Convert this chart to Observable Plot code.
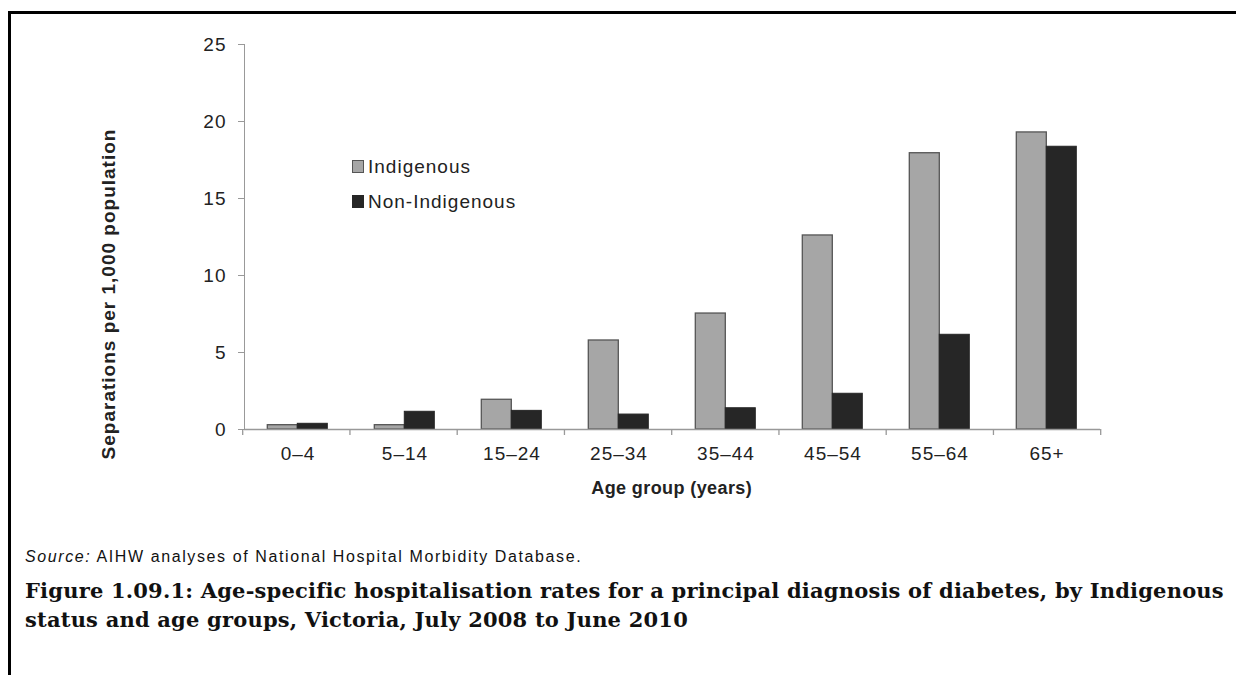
<!DOCTYPE html>
<html>
<head>
<meta charset="utf-8">
<script src="https://cdn.jsdelivr.net/npm/d3@7"></script>
<script src="https://cdn.jsdelivr.net/npm/@observablehq/plot@0.6"></script>
<style>
  html, body { margin: 0; padding: 0; background: #fff; }
  #page { position: relative; width: 1236px; height: 675px; overflow: hidden; background: #fff; }
  #btop { position: absolute; left: 8px; top: 11px; width: 1228px; height: 3px; background: #000; }
  #bleft { position: absolute; left: 8px; top: 11px; width: 3px; height: 664px; background: #000; }
  #chart { position: absolute; left: 0; top: 0; }
  #chart svg text { fill: #222; letter-spacing: 1px; }
  .legend { position: absolute; left: 352px; font: 19px "Liberation Sans", Arial, sans-serif; letter-spacing: 1px; color: #222; line-height: 20px; white-space: nowrap; }
  .legend .sw { display: inline-block; width: 10px; height: 11px; border: 1px solid #555; vertical-align: 0px; margin-right: 4px; }
  #source { position: absolute; left: 25px; top: 548px; font: 16px "Liberation Sans", Arial, sans-serif; letter-spacing: 1.6px; line-height: 18px; color: #111; white-space: nowrap; }
  #title { position: absolute; left: 25px; top: 576px; font: bold 21px "DejaVu Serif", "Liberation Serif", serif; letter-spacing: 0.2px; line-height: 29px; color: #111; white-space: nowrap; }
</style>
</head>
<body>
<div id="page">
  <div id="btop"></div>
  <div id="bleft"></div>
  <div id="chart"></div>
  <div id="legend"></div>
  <div id="source"><i>Source:</i> AIHW analyses of National Hospital Morbidity Database.</div>
  <div id="title">Figure 1.09.1: Age-specific hospitalisation rates for a principal diagnosis of diabetes, by Indigenous<br>status and age groups, Victoria, July 2008 to June 2010</div>
</div>
<script>
// ---- data ----
const ages = ["0–4", "5–14", "15–24", "25–34", "35–44", "45–54", "55–64", "65+"];
const series = ["Indigenous", "Non-Indigenous"];
const indigenous = [0.28, 0.28, 1.93, 5.78, 7.53, 12.6, 17.94, 19.29];
const nonIndigenous = [0.37, 1.15, 1.21, 0.97, 1.38, 2.32, 6.15, 18.36];
const yTicks = [0, 5, 10, 15, 20, 25];
const seriesFill = ["#a6a6a6", "#262626"];
const seriesStroke = ["#555555", "#262626"];
const yLabel = "Separations per 1,000 population";
const xLabel = "Age group (years)";

const rows = [];
ages.forEach((a, i) => {
  rows.push({age: a, series: series[0], value: indigenous[i]});
  rows.push({age: a, series: series[1], value: nonIndigenous[i]});
});

const plot = Plot.plot({
  width: 1236,
  height: 500,
  marginLeft: 242.7,
  marginRight: 135.3,
  marginTop: 44,
  marginBottom: 71,
  style: {fontFamily: '"Liberation Sans", Arial, sans-serif', fontSize: "19px", color: "#999", background: "transparent", overflow: "visible"},
  facet: {data: rows, x: "age"},
  fx: {domain: ages, padding: 0, label: null, tickSize: 0, tickPadding: 17, axis: "bottom"},
  x: {domain: series, paddingInner: 0, paddingOuter: 0.729, axis: null},
  y: {domain: [0, 25], ticks: yTicks, tickSize: 6, tickPadding: 12, line: true, label: null},
  marks: [
    Plot.barY(rows, {filter: d => d.series === series[0], x: "series", y: "value", fill: seriesFill[0], stroke: seriesStroke[0], strokeWidth: 1.3}),
    Plot.barY(rows, {filter: d => d.series === series[1], x: "series", y: "value", fill: seriesFill[1], stroke: seriesStroke[1], strokeWidth: 1}),
    Plot.ruleY([0], {stroke: "#999", strokeWidth: 1.3})
  ]
});
document.getElementById("chart").appendChild(plot);

// boundary ticks on the category axis, from the library's scales
const fxs = plot.scale("fx");
const ys = plot.scale("y");
const fxBand = d3.scaleBand().domain(fxs.domain).range(fxs.range)
  .paddingInner(fxs.paddingInner || 0).paddingOuter(fxs.paddingOuter || 0);
const yLin = d3.scaleLinear().domain(ys.domain).range(ys.range);
const svg = d3.select(plot.tagName.toLowerCase() === "svg" ? plot : plot.querySelector("svg"));
const bounds = fxs.domain.map(d => fxBand(d)).concat([fxBand(fxs.domain[fxs.domain.length - 1]) + fxBand.bandwidth()]);
const y0 = yLin(0);
svg.append("g").attr("stroke", "#999").attr("stroke-width", 1.3)
  .selectAll("line").data(bounds).join("line")
  .attr("x1", d => d).attr("x2", d => d).attr("y1", y0).attr("y2", y0 + 6);

// axis titles
const midX = (fxs.range[0] + fxs.range[1]) / 2;
svg.append("text").text(xLabel)
  .attr("x", midX).attr("y", 494).attr("text-anchor", "middle")
  .attr("font-weight", "bold").style("font-size", "18px").style("letter-spacing", "0.4px");
svg.append("text").text(yLabel)
  .attr("transform", "translate(115,294) rotate(-90)").attr("text-anchor", "middle")
  .attr("font-weight", "bold");

// legend
const leg = document.getElementById("legend");
const legTops = [157, 192];
series.forEach((s, i) => {
  const div = document.createElement("div");
  div.className = "legend";
  div.style.top = legTops[i] + "px";
  const sw = document.createElement("span");
  sw.className = "sw";
  sw.style.background = seriesFill[i];
  sw.style.borderColor = seriesStroke[i];
  div.appendChild(sw);
  div.appendChild(document.createTextNode(s));
  leg.appendChild(div);
});
</script>
</body>
</html>
